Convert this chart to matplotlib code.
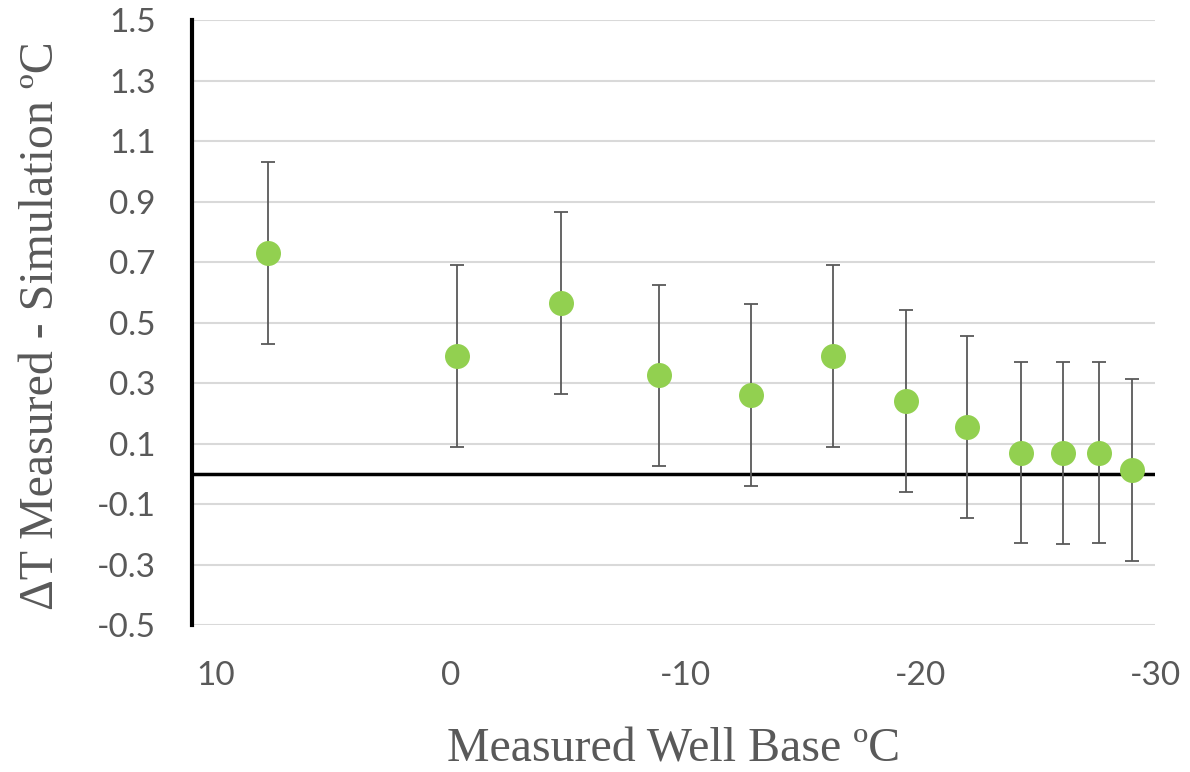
import numpy as np
import matplotlib.pyplot as plt

plt.rcParams['axes.unicode_minus'] = False

# measured well base temperature (deg C) and delta T (measured - simulation)
well_base = [7.75, -0.3, -4.7, -8.9, -12.8, -16.3, -19.4, -22.0, -24.3, -26.1, -27.6, -29.0]
delta_t = [0.73, 0.39, 0.565, 0.325, 0.26, 0.39, 0.24, 0.155, 0.07, 0.068, 0.07, 0.012]
err = [0.3] * len(delta_t)

xticks = [10, 0, -10, -20, -30]
yticks = [-0.5, -0.3, -0.1, 0.1, 0.3, 0.5, 0.7, 0.9, 1.1, 1.3, 1.5]

fig = plt.figure(figsize=(11.9, 7.72), dpi=100)
ax = fig.add_axes([0.1613, 0.1904, 0.8093, 0.7836])

ax.errorbar(well_base, delta_t, yerr=err, fmt='none', ecolor='#595959',
            elinewidth=1.3, capsize=5, capthick=1.3, zorder=3)
ax.plot(well_base, delta_t, 'o', color='#92d050', markersize=18,
        markeredgewidth=0, zorder=4)

ax.axhline(0, color='black', lw=2.5, zorder=2)

ax.set_xlim(11, -30)
ax.set_ylim(-0.5, 1.5)
ax.set_xticks(xticks)
ax.set_yticks(yticks)
ax.set_yticklabels(['%.1f' % v for v in yticks])
ax.yaxis.grid(True, color='#d9d9d9', lw=1.5)
ax.set_axisbelow(True)

for s in ['top', 'right', 'bottom']:
    ax.spines[s].set_visible(False)
ax.spines['left'].set_linewidth(3)
ax.spines['left'].set_color('black')

ax.tick_params(axis='both', length=0, labelsize=24, labelcolor='#595959')
ax.tick_params(axis='x', pad=26)
ax.tick_params(axis='y', pad=26)
for lab in ax.get_xticklabels() + ax.get_yticklabels():
    lab.set_family('Lato')

ax.set_xlabel('Measured Well Base ºC', fontsize=34.5, color='#595959',
              family='Liberation Serif', va='center')
ax.xaxis.set_label_coords(0.5, -0.206)
ax.set_ylabel('ΔT Measured - Simulation ºC', fontsize=34.5, color='#595959',
              family='Liberation Serif', va='center')
ax.yaxis.set_label_coords(-0.157, 0.495)

fig.savefig('out.png', dpi=100)
